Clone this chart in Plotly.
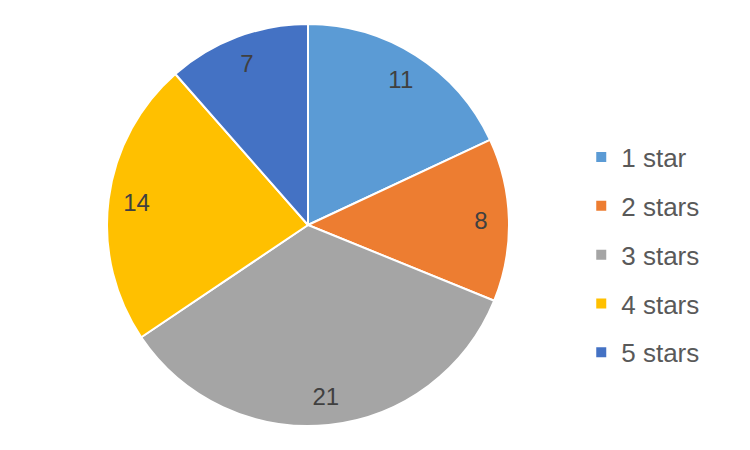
import plotly.graph_objects as go

categories = ["1 star", "2 stars", "3 stars", "4 stars", "5 stars"]
values = [11, 8, 21, 14, 7]
colors = ["#5B9BD5", "#ED7D31", "#A5A5A5", "#FFC000", "#4472C4"]

FONT = "Liberation Sans, Arial, sans-serif"
domain = dict(x=[(308 - 201) / 750, (308 + 201) / 750], y=[24 / 450, 426 / 450])

fig = go.Figure()

# Main pie (colored slices)
fig.add_trace(go.Pie(
    labels=categories,
    values=values,
    sort=False,
    direction="clockwise",
    rotation=0,
    marker=dict(colors=colors, line=dict(color="white", width=2)),
    textinfo="none",
    domain=domain,
    showlegend=False,
    hoverinfo="label+value",
))

# Transparent overlay ring used only to place the value labels near the outer edge
fig.add_trace(go.Pie(
    labels=categories,
    values=values,
    sort=False,
    direction="clockwise",
    rotation=0,
    hole=0.72,
    marker=dict(colors=["rgba(0,0,0,0)"] * len(values), line=dict(width=0)),
    textinfo="value",
    textposition="inside",
    insidetextorientation="horizontal",
    textfont=dict(family=FONT, size=24, color="#404040"),
    domain=domain,
    showlegend=False,
    hoverinfo="skip",
))

# Legend entries
for name, col in zip(categories, colors):
    fig.add_trace(go.Scatter(
        x=[None], y=[None], mode="markers", name=name,
        legendgroup=name,
        marker=dict(symbol="square", size=10, color=col),
        hoverinfo="skip",
    ))

fig.update_layout(
    width=750, height=450,
    margin=dict(l=0, r=0, t=0, b=0),
    paper_bgcolor="white",
    plot_bgcolor="white",
    showlegend=True,
    xaxis=dict(visible=False),
    yaxis=dict(visible=False),
    legend=dict(
        x=0.775, y=0.433, xanchor="left", yanchor="middle",
        font=dict(family=FONT, size=26, color="#595959"),
        itemwidth=30,
        tracegroupgap=12,
        bgcolor="rgba(0,0,0,0)",
    ),
)

fig.write_html("out.html", config={"displayModeBar": False},
               post_script="document.body.style.margin='0';")
